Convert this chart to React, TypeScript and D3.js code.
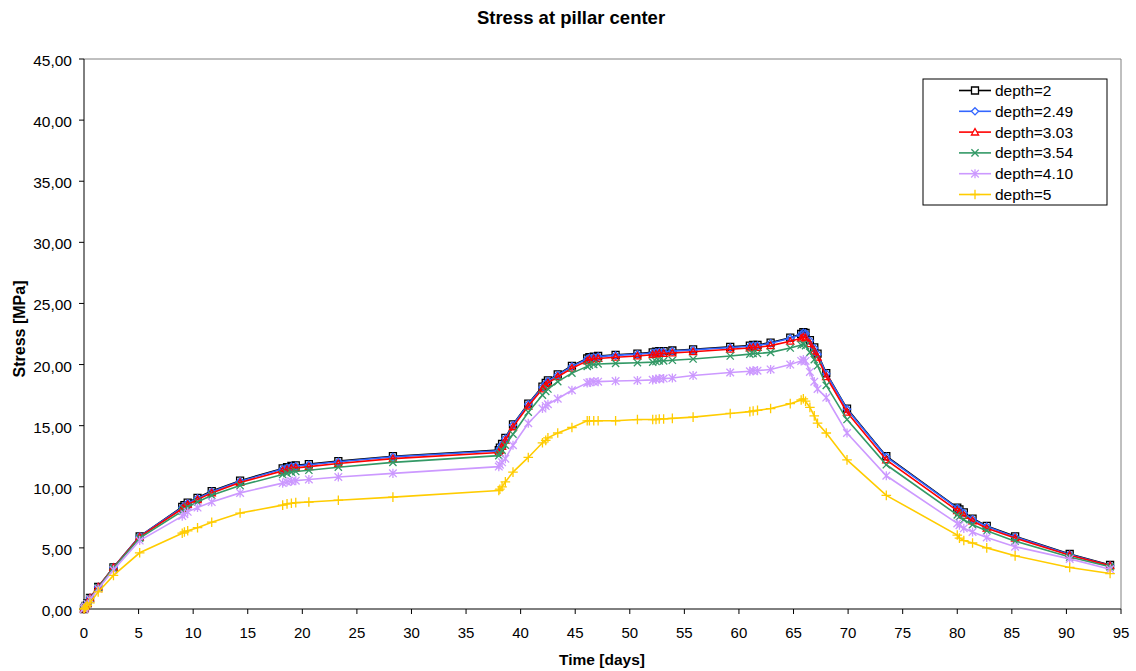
import React from "react";
import * as d3 from "d3";

const title = "Stress at pillar center";
const xTitle = "Time [days]";
const yTitle = "Stress [MPa]";
const xTicks = d3.range(0, 100, 5);
const yTicks = d3.range(0, 50, 5);

const times = [0, 0.05, 0.15, 0.3, 0.55, 1.3, 2.7, 5.1, 9.0, 9.2, 9.5, 10.4, 11.7, 14.3, 18.2, 18.6, 19.0, 19.4, 20.6, 23.3, 28.3, 38.0, 38.1, 38.3, 38.6, 39.3, 40.7, 42.0, 42.3, 42.5, 43.4, 44.7, 46.1, 46.3, 46.7, 47.1, 48.7, 50.7, 52.1, 52.4, 52.7, 53.1, 53.9, 55.8, 59.2, 61.0, 61.3, 61.7, 62.9, 64.7, 65.7, 65.9, 66.1, 66.5, 66.9, 67.2, 68.0, 69.9, 73.5, 80.0, 80.2, 80.6, 81.4, 82.7, 85.3, 90.3, 94.0];

const depth2 = [0, 0.1, 0.25, 0.45, 0.9, 1.8, 3.4, 5.95, 8.35, 8.5, 8.7, 9.1, 9.65, 10.5, 11.5, 11.6, 11.7, 11.75, 11.85, 12.1, 12.5, 13.0, 13.2, 13.5, 14.0, 15.1, 16.8, 18.2, 18.5, 18.7, 19.2, 19.9, 20.5, 20.6, 20.65, 20.7, 20.8, 20.9, 21.0, 21.05, 21.1, 21.1, 21.15, 21.25, 21.45, 21.55, 21.6, 21.6, 21.8, 22.2, 22.5, 22.65, 22.6, 22.0, 21.4, 20.9, 19.3, 16.4, 12.5, 8.3, 8.15, 7.9, 7.4, 6.8, 5.95, 4.5, 3.6];
const depth249 = [0, 0.1, 0.25, 0.45, 0.9, 1.8, 3.4, 5.95, 8.3, 8.45, 8.65, 9.05, 9.6, 10.45, 11.45, 11.55, 11.65, 11.7, 11.8, 12.05, 12.45, 12.95, 13.15, 13.45, 13.95, 15.05, 16.75, 18.15, 18.45, 18.65, 19.15, 19.85, 20.45, 20.55, 20.6, 20.65, 20.75, 20.85, 20.95, 21.0, 21.05, 21.05, 21.1, 21.2, 21.4, 21.5, 21.55, 21.55, 21.75, 22.15, 22.45, 22.6, 22.55, 21.95, 21.35, 20.85, 19.25, 16.35, 12.45, 8.25, 8.1, 7.85, 7.35, 6.75, 5.9, 4.45, 3.55];
const depth303 = [0, 0.1, 0.25, 0.45, 0.9, 1.8, 3.4, 5.9, 8.2, 8.35, 8.55, 8.95, 9.5, 10.35, 11.3, 11.4, 11.5, 11.55, 11.65, 11.9, 12.3, 12.8, 13.0, 13.3, 13.8, 14.9, 16.6, 18.0, 18.3, 18.5, 19.0, 19.7, 20.3, 20.4, 20.45, 20.5, 20.6, 20.7, 20.8, 20.85, 20.9, 20.9, 20.95, 21.05, 21.25, 21.35, 21.4, 21.4, 21.55, 21.9, 22.15, 22.25, 22.2, 21.7, 21.1, 20.6, 19.0, 16.1, 12.2, 8.05, 7.9, 7.65, 7.2, 6.6, 5.8, 4.4, 3.55];
const depth354 = [0, 0.1, 0.25, 0.45, 0.85, 1.75, 3.35, 5.8, 8.0, 8.15, 8.35, 8.75, 9.3, 10.1, 11.0, 11.1, 11.2, 11.25, 11.35, 11.6, 12.0, 12.55, 12.75, 13.0, 13.4, 14.3, 16.1, 17.5, 17.8, 18.0, 18.6, 19.3, 19.85, 19.95, 20.0, 20.05, 20.1, 20.15, 20.2, 20.25, 20.3, 20.3, 20.35, 20.45, 20.7, 20.85, 20.9, 20.9, 21.0, 21.35, 21.6, 21.65, 21.55, 21.0, 20.4, 19.9, 18.3, 15.5, 11.8, 7.7, 7.55, 7.3, 6.9, 6.4, 5.55, 4.25, 3.45];
const depth410 = [0, 0.1, 0.2, 0.4, 0.8, 1.65, 3.2, 5.6, 7.6, 7.75, 7.95, 8.3, 8.75, 9.5, 10.3, 10.4, 10.45, 10.5, 10.6, 10.8, 11.1, 11.65, 11.8, 12.0, 12.3, 13.4, 15.2, 16.4, 16.6, 16.75, 17.2, 17.9, 18.5, 18.55, 18.6, 18.6, 18.65, 18.7, 18.75, 18.8, 18.85, 18.85, 18.9, 19.1, 19.35, 19.45, 19.5, 19.5, 19.6, 20.0, 20.3, 20.4, 20.3, 19.4, 18.6, 18.0, 17.3, 14.4, 10.9, 7.0, 6.85, 6.6, 6.3, 5.85, 5.1, 4.1, 3.25];
const depth5 = [0, 0.05, 0.15, 0.3, 0.5, 1.4, 2.75, 4.6, 6.2, 6.3, 6.4, 6.65, 7.1, 7.85, 8.5, 8.6, 8.65, 8.7, 8.75, 8.9, 9.15, 9.7, 9.8, 10.0, 10.4, 11.2, 12.4, 13.6, 13.8, 14.0, 14.4, 14.85, 15.4, 15.4, 15.4, 15.4, 15.4, 15.5, 15.5, 15.5, 15.55, 15.55, 15.6, 15.7, 16.0, 16.15, 16.2, 16.25, 16.4, 16.8, 17.1, 17.2, 17.0, 16.5, 15.8, 15.2, 14.4, 12.2, 9.3, 6.05, 5.8, 5.6, 5.4, 5.0, 4.35, 3.4, 2.9];

const seriesNames = ["depth=2", "depth=2.49", "depth=3.03", "depth=3.54", "depth=4.10", "depth=5"];
const seriesValues = [depth2, depth249, depth303, depth354, depth410, depth5];
const seriesColors = ["#000000", "#3366FF", "#FF0000", "#339966", "#CC99FF", "#FFCC00"];
const seriesMarkers = ["square", "diamond", "triangle", "x", "asterisk", "plus"];

const W = 1136;
const H = 671;
const plot = { left: 84, right: 1121, top: 59, bottom: 609 };
const FONT = "'Liberation Sans', Arial, sans-serif";

function markerPath(kind: string, r: number): string {
  switch (kind) {
    case "square":
      return `M${-r},${-r}H${r}V${r}H${-r}Z`;
    case "diamond":
      return `M0,${-r}L${r},0L0,${r}L${-r},0Z`;
    case "triangle":
      return `M0,${-r}L${r},${r * 0.8}L${-r},${r * 0.8}Z`;
    case "x":
      return `M${-r},${-r}L${r},${r}M${-r},${r}L${r},${-r}`;
    case "asterisk":
      return `M${-r},${-r}L${r},${r}M${-r},${r}L${r},${-r}M0,${-r * 1.2}V${r * 1.2}`;
    case "plus":
      return `M${-r * 1.2},0H${r * 1.2}M0,${-r * 1.2}V${r * 1.2}`;
    default:
      return "";
  }
}
const markerSize: Record<string, number> = { square: 3.5, diamond: 3.6, triangle: 3.6, x: 3.6, asterisk: 3.8, plus: 4 };
const filled: Record<string, boolean> = { square: true, diamond: true, triangle: true };

export default function App() {
  const x = d3.scaleLinear().domain([0, 95]).range([plot.left, plot.right]);
  const y = d3.scaleLinear().domain([0, 45]).range([plot.bottom, plot.top]);
  const line = d3
    .line<[number, number]>()
    .x((d) => x(d[0]))
    .y((d) => y(d[1]));

  const legend = { x: 923, y: 79, w: 184, h: 126, step: 20.8 };

  return (
    <div style={{ position: "absolute", left: 0, top: 0 }}>
      <svg width={W} height={H} style={{ display: "block", background: "#fff" }} fontFamily={FONT}>
        <rect x={0} y={0} width={W} height={H} fill="#fff" />
        <text x={571} y={24} textAnchor="middle" fontSize={18.5} fontWeight="bold">{title}</text>

        {/* plot frame */}
        <line x1={plot.left} x2={plot.right} y1={plot.top} y2={plot.top} stroke="#808080" />
        <line x1={plot.right} x2={plot.right} y1={plot.top} y2={plot.bottom} stroke="#808080" />

        {/* y axis */}
        <line x1={plot.left} x2={plot.left} y1={plot.top} y2={plot.bottom} stroke="#000" />
        {yTicks.map((t) => (
          <g key={"y" + t}>
            <line x1={plot.left - 5} x2={plot.left} y1={y(t)} y2={y(t)} stroke="#000" />
            <text x={plot.left - 12} y={y(t) + 7} textAnchor="end" fontSize={15.5}>
              {d3.format(".2f")(t).replace(".", ",")}
            </text>
          </g>
        ))}
        {/* x axis */}
        <line x1={plot.left} x2={plot.right} y1={plot.bottom} y2={plot.bottom} stroke="#000" />
        {xTicks.map((t) => (
          <g key={"x" + t}>
            <line x1={x(t)} x2={x(t)} y1={plot.bottom} y2={plot.bottom + 5} stroke="#000" />
            <text x={x(t)} y={638} textAnchor="middle" fontSize={15}>{t}</text>
          </g>
        ))}
        <text x={602} y={665} textAnchor="middle" fontSize={15.5} fontWeight="bold">{xTitle}</text>
        <text transform={`translate(25,329) rotate(-90)`} textAnchor="middle" fontSize={16} fontWeight="bold">{yTitle}</text>

        {/* series */}
        {seriesValues.map((vals, si) => {
          const pts = times.map((t, i) => [t, vals[i]] as [number, number]);
          const m = seriesMarkers[si];
          const c = seriesColors[si];
          return (
            <g key={seriesNames[si]}>
              <path d={line(pts) || ""} fill="none" stroke={c} strokeWidth={1.6} />
              {pts.map((p, i) => (
                <path
                  key={i}
                  transform={`translate(${x(p[0])},${y(p[1])})`}
                  d={markerPath(m, markerSize[m])}
                  fill="none"
                  stroke={c}
                  strokeWidth={1.3}
                />
              ))}
            </g>
          );
        })}

        {/* legend */}
        <rect x={legend.x} y={legend.y} width={legend.w} height={legend.h} fill="#fff" stroke="#000" />
        {seriesNames.map((n, i) => {
          const cy = legend.y + 11.5 + i * legend.step;
          const m = seriesMarkers[i];
          return (
            <g key={"lg" + n}>
              <line x1={959} x2={991} y1={cy} y2={cy} stroke={seriesColors[i]} strokeWidth={1.6} />
              <path
                transform={`translate(975,${cy})`}
                d={markerPath(m, markerSize[m])}
                fill={filled[m] ? "#fff" : "none"}
                stroke={seriesColors[i]}
                strokeWidth={1.3}
              />
              <text x={995} y={cy + 5.5} fontSize={15.5}>{n}</text>
            </g>
          );
        })}
      </svg>
    </div>
  );
}
